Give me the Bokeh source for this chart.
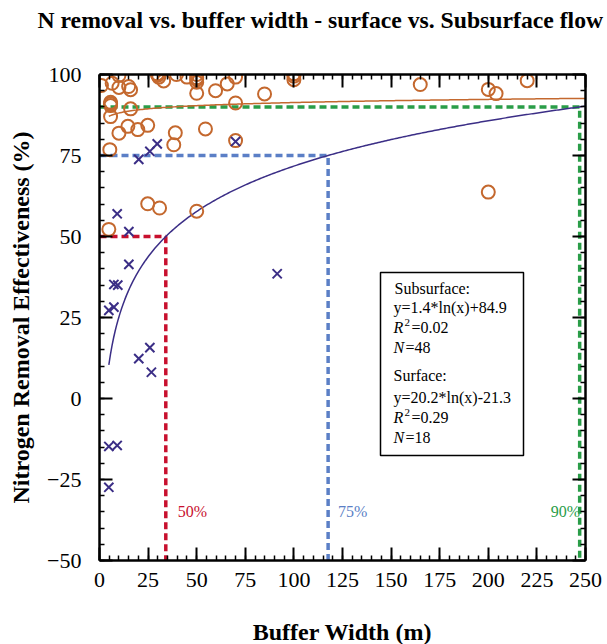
import numpy as np
from bokeh.plotting import figure
from bokeh.layouts import column
from bokeh.models import Range1d, LinearAxis, SingleIntervalTicker, Label, BoxAnnotation, Title
from bokeh.embed import file_html
from bokeh.resources import INLINE

# ---------------- data ----------------
sub_x = [1, 6.5, 10, 10, 15, 16, 29.7, 30.5, 33, 39.6, 45, 50, 50, 50, 50,
         5.7, 5.7, 5.7, 16, 10, 14.6, 19.7, 24.8, 39, 38.2, 54.5, 5.3, 59.7,
         65.7, 70, 84.9, 70, 100, 100, 70, 24.8, 30.9, 50, 4.8, 165, 200, 204,
         220, 200, 100, 50, 30, 5.7]
sub_y = [96.6, 97.3, 99.7, 96, 96.3, 95.3, 100.2, 99.2, 98, 100, 99.2, 100, 99, 97.6, 94.2,
         91.4, 90.4, 87, 89.4, 81.9, 84, 83, 84.3, 82, 78.3, 83.2, 76.8, 95,
         97.1, 99.2, 94, 91.2, 100.2, 98.4, 79.6, 60.1, 58.8, 57.8, 52.2, 96.9, 95.4, 94.1,
         98.1, 63.7, 99.5, 98.5, 99.8, 91]
surf_x = [20.2, 25.9, 29.7, 70, 9.1, 15.1, 15.1, 7.4, 9.4, 4.8, 7.4, 20.2, 25.9, 26.7,
          91.4, 4.8, 9.1, 4.8]
surf_y = [73.8, 76.3, 78.6, 79.3, 57, 51.5, 41.4, 35.2, 35, 27.2, 28.2, 12.3, 15.7, 8.1,
          38.5, -14.8, -14.5, -27.4]

sub_fit = [1.4, 84.9]      # slope, intercept of y = a*ln(x) + b
surf_fit = [20.2, -21.3]
fit_x_range = [4.8, 250]

thr_pct = [50, 75, 90]
thr_width = [34.1, 117.6, 247.0]
thr_labels = ["50%", "75%", "90%"]
thr_colors = ["#c8102e", "#5b7fc6", "#2a9d48"]
thr_label_offsets = [12, 10, -29]

x_ticks_step = 25
y_ticks_step = 25

TITLE = "N removal vs. buffer width - surface vs. Subsurface flow"

# ---------------- layout helpers (page pixels -> data) ----------------
PAGE_W, TITLE_H = 607, 40
FL, FT, FW, FH = 99, 74, 486, 486
XMIN, XMAX, YMIN, YMAX = 0, 250, -50, 100

def px2x(px):
    return (px - FL) / FW * (XMAX - XMIN) + XMIN

def py2y(py):
    return YMAX - (py - FT) / FH * (YMAX - YMIN)

SERIF = "Liberation Serif"
ORANGE = "#c4682e"
NAVY = "#3b2e86"

# ---------------- title strip ----------------
t = figure(width=PAGE_W, height=TITLE_H, output_backend="svg", toolbar_location=None,
           x_range=Range1d(0, 1), y_range=Range1d(0, 1),
           min_border_left=FL, min_border_right=21, min_border_top=0, min_border_bottom=0,
           x_axis_location=None, y_axis_location=None)
t.outline_line_color = None
t.grid.visible = False
t.title = Title(text=TITLE, text_font=SERIF, text_font_size="23.7px", text_font_style="bold",
                text_color="black", align="left", offset=37 - FL, standoff=8, vertical_align="bottom")

# ---------------- main plot ----------------
p = figure(frame_width=FW, frame_height=FH, output_backend="svg", toolbar_location=None,
           x_range=Range1d(XMIN, XMAX), y_range=Range1d(YMIN, YMAX),
           min_border_left=FL, min_border_right=21, min_border_top=FT - TITLE_H, min_border_bottom=83,
           x_axis_location=None, y_axis_location=None)
p.outline_line_color = None
p.grid.visible = False
p.background_fill_color = "white"
p.border_fill_color = "white"

def make_axis(side, show_labels, label=None):
    ax = LinearAxis(ticker=SingleIntervalTicker(interval=x_ticks_step if side in ("below", "above") else y_ticks_step,
                                                num_minor_ticks=5))
    ax.axis_line_width = 2.5
    ax.axis_line_color = "black"
    ax.major_tick_in = 13
    ax.major_tick_out = 0
    ax.minor_tick_in = 5
    ax.minor_tick_out = 0
    ax.major_tick_line_width = 2
    ax.minor_tick_line_width = 1.5
    ax.major_tick_line_color = "black"
    ax.minor_tick_line_color = "black"
    if show_labels:
        ax.major_label_text_font = SERIF
        ax.major_label_text_font_size = "22px"
        ax.major_label_text_color = "black"
        if label:
            ax.axis_label = label
            ax.axis_label_text_font = SERIF
            ax.axis_label_text_font_style = "bold"
            ax.axis_label_text_font_size = "24px"
            ax.axis_label_text_color = "black"
    else:
        ax.major_label_text_font_size = "1px"
        ax.major_label_text_color = None
        ax.major_label_standoff = 0
    p.add_layout(ax, side)
    return ax

xb = make_axis("below", True, "Buffer Width (m)")
xb.major_label_standoff = 12
xb.axis_label_standoff = 29
yl = make_axis("left", True, "Nitrogen Removal Effectiveness (%)")
yl.major_label_standoff = 18
yl.axis_label_standoff = 10
make_axis("above", False)
make_axis("right", False)

# threshold dashed lines
for pct, w, lab, col, off in zip(thr_pct, thr_width, thr_labels, thr_colors, thr_label_offsets):
    p.line([XMIN, w, w], [pct, pct, YMIN], line_color=col, line_width=3.5, line_dash="7 4")
    p.add_layout(Label(x=w, y=py2y(511), x_offset=off, text=lab,
                       text_font=SERIF, text_font_size="16px", text_color=col,
                       text_baseline="middle", text_align="left"))

# fit curves
fx = np.linspace(fit_x_range[0], fit_x_range[1], 300)
p.line(fx, sub_fit[0] * np.log(fx) + sub_fit[1], line_color=ORANGE, line_width=1.5)
p.line(fx, surf_fit[0] * np.log(fx) + surf_fit[1], line_color=NAVY, line_width=1.5)

# data points
p.scatter(sub_x, sub_y, marker="circle", size=13, fill_color=None, line_color=ORANGE, line_width=2)
p.scatter(surf_x, surf_y, marker="x", size=13, line_color=NAVY, line_width=2)

# legend box
p.add_layout(BoxAnnotation(left=px2x(380), right=px2x(523), top=py2y(272), bottom=py2y(455),
                           fill_color="white", fill_alpha=1.0, line_color="black", line_width=1.5,
                           line_alpha=1.0))

def lab(px, py, text, size="16px", style="normal", color="black"):
    p.add_layout(Label(x=px2x(px), y=py2y(py), text=text, text_font=SERIF, text_font_size=size,
                       text_font_style=style, text_color=color, text_baseline="middle", text_align="left"))

lab(394, 288, "Subsurface:")
lab(393, 307, "y=1.4*ln(x)+84.9")
lab(393, 327, "R", style="italic")
lab(404, 322, "2", size="11px")
lab(411, 327, "=0.02")
lab(393, 347, "N", style="italic")
lab(405, 347, "=48")
lab(393, 375, "Surface:")
lab(393, 397, "y=20.2*ln(x)-21.3")
lab(393, 417, "R", style="italic")
lab(404, 412, "2", size="11px")
lab(411, 417, "=0.29")
lab(393, 437, "N", style="italic")
lab(405, 437, "=18")
p.scatter([px2x(483)], [py2y(288)], marker="circle", size=11, fill_color=None, line_color=ORANGE, line_width=2)
p.scatter([px2x(463)], [py2y(375)], marker="x", size=11, line_color=NAVY, line_width=2)

layout = column(t, p, spacing=0)
open("out.html", "w").write(file_html(layout, INLINE))
